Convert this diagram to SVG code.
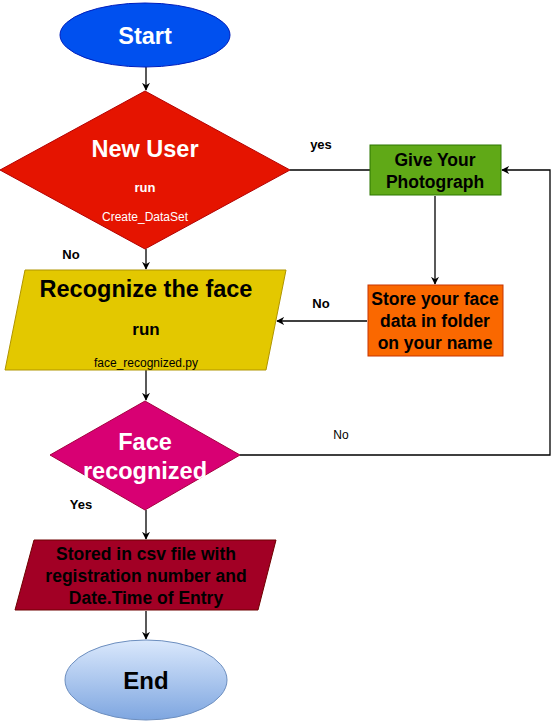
<svg xmlns="http://www.w3.org/2000/svg" width="559" height="721" viewBox="0 0 559 721">
<defs>
<marker id="arr" viewBox="0 0 10 10" refX="9" refY="5" markerWidth="8" markerHeight="8" orient="auto" markerUnits="userSpaceOnUse">
<path d="M0,0 L10,5 L0,10 L3,5 Z" fill="#000"/>
</marker>
<linearGradient id="endg" x1="0" y1="0" x2="0" y2="1">
<stop offset="0" stop-color="#dae8fc"/>
<stop offset="1" stop-color="#7ea6e0"/>
</linearGradient>
</defs>
<style>
text{font-family:"Liberation Sans",Arial,sans-serif;text-anchor:middle;}
.b{font-weight:bold;}
.w{fill:#fff;}
.k{fill:#000;}
.c{fill:none;stroke:#000;stroke-width:1.3;}
</style>
<rect width="559" height="721" fill="#fff"/>
<g id="connectors">
<path class="c" d="M146,67 L146,90" marker-end="url(#arr)"/>
<path class="c" d="M290,170 L370,170"/>
<path class="c" d="M435,196 L435,284" marker-end="url(#arr)"/>
<path class="c" d="M367,321 L277,321" marker-end="url(#arr)"/>
<path class="c" d="M146,249 L146,269" marker-end="url(#arr)"/>
<path class="c" d="M146,370 L146,400" marker-end="url(#arr)"/>
<path class="c" d="M240,455 L550,455 L550,170 L502,170" marker-end="url(#arr)"/>
<path class="c" d="M146,510 L146,539" marker-end="url(#arr)"/>
<path class="c" d="M146,611 L146,639" marker-end="url(#arr)"/>
<text x="321" y="149" class="b" font-size="13">yes</text>
<text x="321" y="308" class="b" font-size="13">No</text>
<text x="71" y="259" class="b" font-size="13">No</text>
<text x="341" y="439" font-size="12">No</text>
<text x="81" y="509" class="b" font-size="13">Yes</text>
</g>
<g id="start">
<ellipse cx="145" cy="35" rx="85" ry="32" fill="#0050ef" stroke="#001dbc" stroke-width="1"/>
<text x="145" y="44" class="b w" font-size="23.5">Start</text>
</g>
<g id="newuser">
<polygon points="145,91 290,170 145,249 0,170" fill="#e51400" stroke="#b20000" stroke-width="1"/>
<text x="145" y="157" class="b w" font-size="23.5">New User</text>
<text x="145" y="192" class="b w" font-size="13">run</text>
<text x="145" y="221" class="w" font-size="12">Create_DataSet</text>
</g>
<g id="photo">
<rect x="370" y="145" width="131" height="50" fill="#60a917" stroke="#2d7600" stroke-width="1"/>
<text x="435" y="166" class="b k" font-size="17.5">Give Your</text>
<text x="435" y="188" class="b k" font-size="17.5">Photograph</text>
</g>
<g id="store">
<rect x="368" y="285" width="135" height="71" fill="#fa6800" stroke="#c73500" stroke-width="1"/>
<text x="435" y="305" class="b k" font-size="17.5">Store your face</text>
<text x="435" y="327" class="b k" font-size="17.5">data in folder</text>
<text x="435" y="349" class="b k" font-size="17.5">on your name</text>
</g>
<g id="recognize">
<polygon points="25,270 286,270 266,370 5,370" fill="#e3c800" stroke="#b09500" stroke-width="1"/>
<text x="146" y="297" class="b k" font-size="23.5">Recognize the face</text>
<text x="146" y="335" class="b k" font-size="17">run</text>
<text x="146" y="367" class="k" font-size="12">face_recognized.py</text>
</g>
<g id="facerec">
<polygon points="145,401 240,455 145,510 50,455" fill="#d80073" stroke="#a50040" stroke-width="1"/>
<text x="145" y="450" class="b w" font-size="23.5">Face</text>
<text x="145" y="479" class="b w" font-size="23.5">recognized</text>
</g>
<g id="stored">
<polygon points="34,540 276,540 258,610 15,610" fill="#a20025" stroke="#6f0000" stroke-width="1"/>
<text x="146" y="560" class="b k" font-size="17.5">Stored in csv file with</text>
<text x="146" y="582" class="b k" font-size="17.5">registration number and</text>
<text x="146" y="604" class="b k" font-size="17.5">Date.Time of Entry</text>
</g>
<g id="end">
<ellipse cx="146" cy="680" rx="81" ry="40" fill="url(#endg)" stroke="#6c8ebf" stroke-width="1"/>
<text x="146" y="689" class="b k" font-size="24">End</text>
</g>
</svg>
